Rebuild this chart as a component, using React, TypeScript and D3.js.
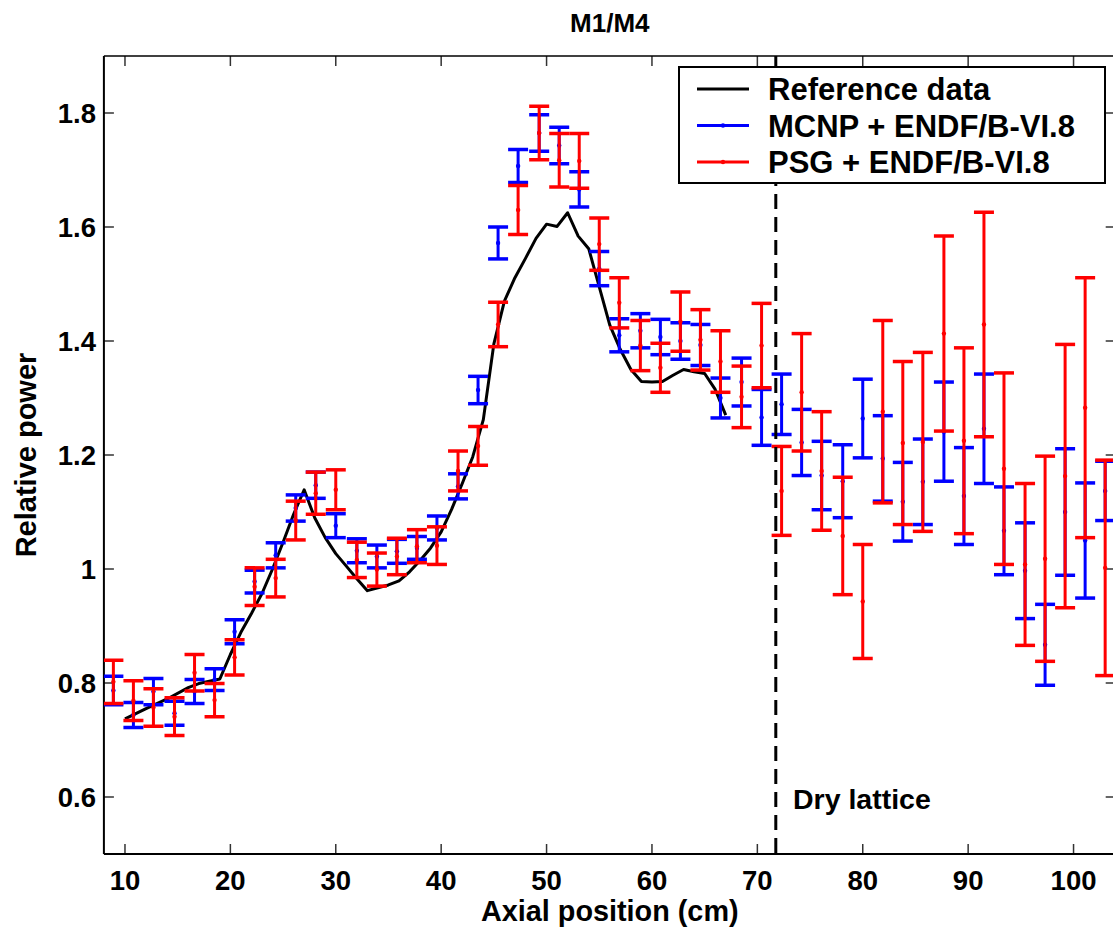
import React from "react";
import * as d3 from "d3";

// Axial positions (cm) of the Monte Carlo tallies
const positions = [
  8.9, 10.8, 12.7, 14.7, 16.6, 18.5, 20.4, 22.3, 24.3, 26.2,
  28.1, 30.0, 32.0, 33.9, 35.8, 37.7, 39.6, 41.6, 43.5, 45.4,
  47.3, 49.3, 51.2, 53.1, 55.0, 56.9, 58.9, 60.8, 62.7, 64.6,
  66.5, 68.5, 70.4, 72.3, 74.2, 76.1, 78.1, 80.0, 81.9, 83.8,
  85.7, 87.7, 89.6, 91.5, 93.4, 95.4, 97.3, 99.2, 101.1, 103.0,
];

// MCNP + ENDF/B-VI.8
const mcnpValue = [
  0.787, 0.744, 0.785, 0.747, 0.785, 0.806, 0.890, 0.978, 1.024, 1.107,
  1.147, 1.076, 1.032, 1.022, 1.031, 1.037, 1.072, 1.145, 1.314, 1.572,
  1.707, 1.765, 1.743, 1.666, 1.527, 1.410, 1.418, 1.407, 1.400, 1.393,
  1.300, 1.328, 1.266, 1.289, 1.222, 1.164, 1.154, 1.264, 1.194, 1.118,
  1.153, 1.241, 1.128, 1.246, 1.067, 0.997, 0.867, 1.100, 1.050, 1.137,
];
const mcnpError = [
  0.025, 0.022, 0.023, 0.021, 0.021, 0.019, 0.021, 0.020, 0.022, 0.023,
  0.023, 0.021, 0.021, 0.020, 0.021, 0.020, 0.021, 0.022, 0.024, 0.028,
  0.029, 0.032, 0.032, 0.031, 0.030, 0.029, 0.030, 0.031, 0.032, 0.036,
  0.035, 0.042, 0.049, 0.053, 0.058, 0.060, 0.064, 0.069, 0.075, 0.069,
  0.075, 0.087, 0.085, 0.096, 0.077, 0.084, 0.071, 0.111, 0.101, 0.052,
];

// PSG + ENDF/B-VI.8
const psgValue = [
  0.802, 0.769, 0.757, 0.741, 0.818, 0.770, 0.845, 0.969, 0.984, 1.085,
  1.133, 1.139, 1.016, 0.999, 1.022, 1.040, 1.041, 1.172, 1.216, 1.429,
  1.630, 1.765, 1.717, 1.716, 1.570, 1.467, 1.392, 1.353, 1.434, 1.402,
  1.364, 1.302, 1.392, 1.137, 1.310, 1.172, 1.058, 0.943, 1.276, 1.221,
  1.223, 1.413, 1.225, 1.429, 1.176, 1.008, 1.018, 1.163, 1.283, 1.002,
];
const psgError = [
  0.038, 0.035, 0.033, 0.033, 0.032, 0.029, 0.031, 0.033, 0.033, 0.034,
  0.037, 0.035, 0.031, 0.029, 0.032, 0.029, 0.033, 0.035, 0.034, 0.039,
  0.043, 0.047, 0.047, 0.048, 0.046, 0.044, 0.044, 0.043, 0.052, 0.053,
  0.054, 0.054, 0.074, 0.078, 0.103, 0.104, 0.103, 0.100, 0.160, 0.143,
  0.157, 0.171, 0.163, 0.197, 0.168, 0.142, 0.180, 0.231, 0.228, 0.189,
];

// Reference data
const refPositions = [
  10, 12, 14, 16, 17, 19, 20, 21, 22, 23,
  24, 25, 26, 27, 28, 29, 30, 31, 32, 33,
  34, 35, 36, 37, 38, 39, 40, 41, 42, 43,
  44, 45, 46, 47, 48, 49, 50, 51, 52, 53,
  54, 55, 56, 57, 58, 59, 60, 61, 62, 63,
  64, 65, 66, 67,
];
const refValue = [
  0.737, 0.755, 0.772, 0.792, 0.799, 0.807, 0.850, 0.889, 0.922, 0.957,
  1.000, 1.047, 1.096, 1.139, 1.090, 1.055, 1.027, 1.005, 0.983, 0.962,
  0.967, 0.972, 0.979, 0.995, 1.015, 1.037, 1.065, 1.105, 1.150, 1.197,
  1.262, 1.395, 1.470, 1.511, 1.545, 1.580, 1.605, 1.601, 1.625, 1.584,
  1.562, 1.495, 1.428, 1.385, 1.350, 1.329, 1.328, 1.329, 1.340, 1.350,
  1.346, 1.343, 1.315, 1.270,
];

const xTicks = [10, 20, 30, 40, 50, 60, 70, 80, 90, 100];
const yTicks = [0.6, 0.8, 1.0, 1.2, 1.4, 1.6, 1.8];
const dryLatticeX = 71.75;

const W = 1113;
const H = 931;
const L = 103.9;
const R = 1115.7;
const T = 56;
const B = 854;
const FONT = "'Liberation Sans', Arial, Helvetica, sans-serif";

export default function App() {
  const x = d3.scaleLinear().domain([8, 104]).range([L, R]);
  const y = d3.scaleLinear().domain([0.5, 1.9]).range([B, T]);

  const refLine = d3
    .line<number>()
    .x((_, i) => x(refPositions[i]))
    .y((d) => y(d));

  const capHalf = 10;
  const tickLen = 10;

  const errorBars = (vals: number[], errs: number[], color: string) =>
    vals.map((v, i) => {
      const cx = x(positions[i]);
      const yt = y(v + errs[i]);
      const yb = y(v - errs[i]);
      return (
        <g key={i}>
          <line x1={cx} x2={cx} y1={yt} y2={yb} stroke={color} strokeWidth={3} />
          <line x1={cx - capHalf} x2={cx + capHalf} y1={yt} y2={yt} stroke={color} strokeWidth={3.5} />
          <line x1={cx - capHalf} x2={cx + capHalf} y1={yb} y2={yb} stroke={color} strokeWidth={3.5} />
          <circle cx={cx} cy={y(v)} r={2.2} fill={color} />
        </g>
      );
    });

  const legendX = 679;
  const legendY = 67;
  const legendW = 426;
  const legendH = 116;
  const legendRows = [
    { label: "Reference data", color: "#000000", dot: false, yy: 89 },
    { label: "MCNP + ENDF/B-VI.8", color: "#0000ff", dot: true, yy: 125.5 },
    { label: "PSG + ENDF/B-VI.8", color: "#ff0000", dot: true, yy: 162 },
  ];

  return (
    <svg
      width={W}
      height={H}
      style={{ position: "absolute", left: 0, top: 0, background: "#fff" }}
      fontFamily={FONT}
      fontWeight="bold"
    >
      <rect x={0} y={0} width={W} height={H} fill="#ffffff" />
      <clipPath id="plotclip">
        <rect x={L} y={T} width={R - L} height={B - T} />
      </clipPath>

      {/* ticks */}
      {xTicks.map((t) => (
        <g key={"xt" + t}>
          <line x1={x(t)} x2={x(t)} y1={B} y2={B - tickLen} stroke="#333" strokeWidth={1.5} />
          <line x1={x(t)} x2={x(t)} y1={T} y2={T + tickLen} stroke="#333" strokeWidth={1.5} />
          <text x={x(t)} y={890} textAnchor="middle" fontSize={27.5} fill="#000">
            {t}
          </text>
        </g>
      ))}
      {yTicks.map((t) => (
        <g key={"yt" + t}>
          <line x1={L} x2={L + tickLen} y1={y(t)} y2={y(t)} stroke="#333" strokeWidth={1.5} />
          <line x1={R} x2={R - tickLen} y1={y(t)} y2={y(t)} stroke="#333" strokeWidth={1.5} />
          <text x={96} y={y(t)} dy="0.36em" textAnchor="end" fontSize={27.5} fill="#000">
            {d3.format("~g")(t)}
          </text>
        </g>
      ))}

      {/* axes box */}
      <line x1={L} x2={R} y1={T} y2={T} stroke="#000" strokeWidth={1.5} />
      <line x1={L} x2={R} y1={B} y2={B} stroke="#000" strokeWidth={2} />
      <line x1={L} x2={L} y1={T} y2={B} stroke="#000" strokeWidth={2} />
      <line x1={R} x2={R} y1={T} y2={B} stroke="#000" strokeWidth={2} />

      <g clipPath="url(#plotclip)">
        <path d={refLine(refValue) || ""} fill="none" stroke="#000" strokeWidth={3} strokeLinejoin="round" />
        {errorBars(mcnpValue, mcnpError, "#0000ff")}
        {errorBars(psgValue, psgError, "#ff0000")}
        <line
          x1={x(dryLatticeX)}
          x2={x(dryLatticeX)}
          y1={T}
          y2={B}
          stroke="#000"
          strokeWidth={3}
          strokeDasharray="15 8"
        />
      </g>

      <text x={793} y={809} fontSize={28.5} fill="#000">
        Dry lattice
      </text>

      {/* legend */}
      <rect x={legendX} y={legendY} width={legendW} height={legendH} fill="#fff" stroke="#000" strokeWidth={2} />
      {legendRows.map((r) => (
        <g key={r.label}>
          <line x1={697} x2={749} y1={r.yy} y2={r.yy} stroke={r.color} strokeWidth={3} />
          {r.dot && <circle cx={723} cy={r.yy} r={2.2} fill={r.color} />}
          <text x={768} y={r.yy} dy="0.36em" fontSize={31} fill="#000">
            {r.label}
          </text>
        </g>
      ))}

      {/* title and labels */}
      <text x={(L + R) / 2} y={32} textAnchor="middle" fontSize={26} fill="#000">
        M1/M4
      </text>
      <text x={(L + R) / 2} y={921} textAnchor="middle" fontSize={28.8} fill="#000">
        Axial position (cm)
      </text>
      <text
        transform={`translate(36, ${(T + B) / 2}) rotate(-90)`}
        textAnchor="middle"
        fontSize={29}
        fill="#000"
      >
        Relative power
      </text>
    </svg>
  );
}
